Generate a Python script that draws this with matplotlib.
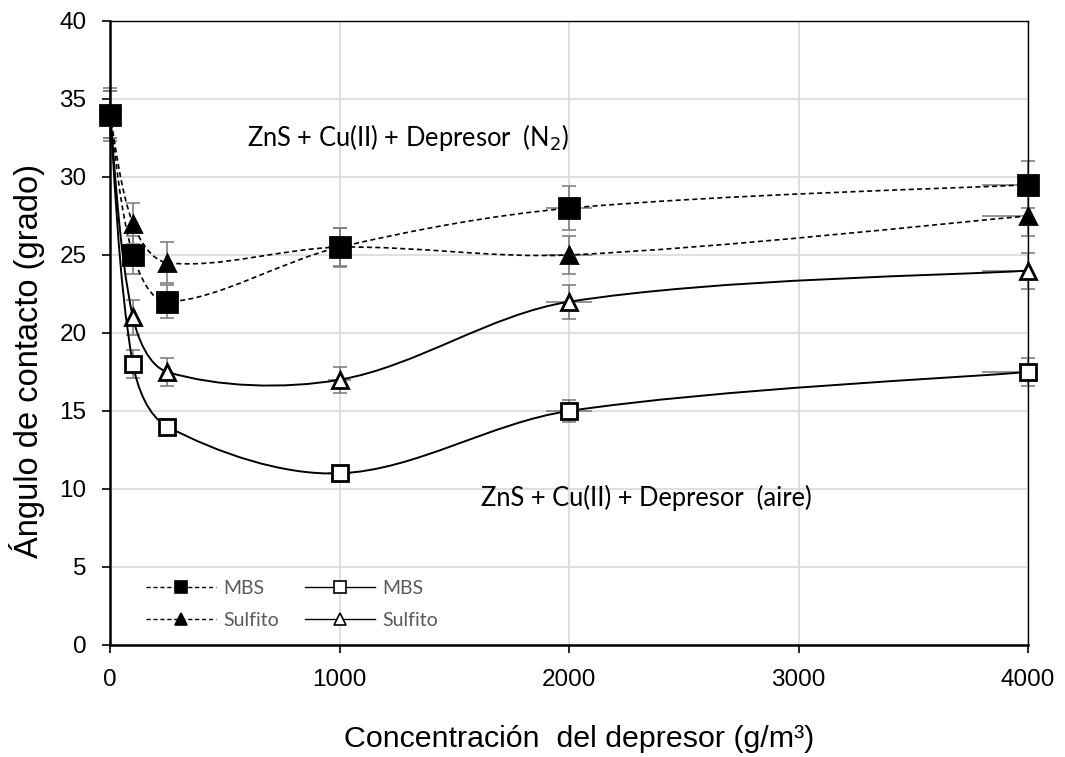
import matplotlib.pyplot as plt
import matplotlib as mpl
import numpy as np
from matplotlib.path import Path
from matplotlib.patches import PathPatch
from matplotlib.lines import Line2D

mpl.rcParams['font.family'] = 'sans-serif'
mpl.rcParams['font.sans-serif'] = ['Liberation Sans', 'Arial', 'DejaVu Sans']

# datos
conc = [0, 100, 250, 1000, 2000, 4000]
conc_err = [0, 5, 12.5, 50, 100, 200]

mbs_n2 = [34, 25, 22, 25.5, 28, 29.5]
mbs_n2_err = [1.7, 1.2, 1.05, 1.25, 1.4, 1.5]
sulf_n2 = [34, 27, 24.5, 25.5, 25, 27.5]
sulf_n2_err = [1.5, 1.3, 1.3, 1.2, 1.2, 1.3]
mbs_aire = [34, 18, 14, 11, 15, 17.5]
mbs_aire_err = [1.5, 0.9, 0.5, 0.3, 0.7, 0.9]
sulf_aire = [34, 21, 17.5, 17, 22, 24]
sulf_aire_err = [1.5, 1.1, 0.9, 0.85, 1.1, 1.15]

xticks = [0, 1000, 2000, 3000, 4000]
yticks = list(range(0, 45, 5))


def smooth_path(ax, xs, ys):
    """Curva suavizada tipo Excel: Bezier cubica calculada en pixeles"""
    tr = ax.transData
    pts = tr.transform(np.column_stack([xs, ys]).astype(float))
    n = len(pts)
    ctrl_in = [None] * n
    ctrl_out = [None] * n
    for i in range(n):
        if i == 0:
            ctrl_out[i] = pts[0] + (pts[1] - pts[0]) / 6.0
            continue
        if i == n - 1:
            ctrl_in[i] = pts[i] - (pts[i] - pts[i - 1]) / 6.0
            continue
        t = pts[i + 1] - pts[i - 1]
        dp = np.hypot(*(pts[i] - pts[i - 1]))
        dn = np.hypot(*(pts[i + 1] - pts[i]))
        ctrl_in[i] = pts[i] - t * dp / (dp + dn) / 3.0
        ctrl_out[i] = pts[i] + t * dn / (dp + dn) / 3.0
    verts = [pts[0]]
    codes = [Path.MOVETO]
    for i in range(n - 1):
        verts += [ctrl_out[i], ctrl_in[i + 1], pts[i + 1]]
        codes += [Path.CURVE4] * 3
    verts = tr.inverted().transform(np.array(verts))
    return Path(verts, codes)


fig = plt.figure(figsize=(10.65, 7.57), dpi=100)
ax = fig.add_axes([0.1033, 0.148, 0.862, 0.8243])
ax.set_xlim(0, 4000)
ax.set_ylim(0, 40)

# orden de dibujo: las series en N2 quedan encima
series = [
    (sulf_aire, sulf_aire_err, '^', 'white', '-', 11, 'Sulfito'),
    (mbs_aire, mbs_aire_err, 's', 'white', '-', 11, 'MBS'),
    (sulf_n2, sulf_n2_err, '^', 'black', (0, (3, 2)), 12, 'Sulfito'),
    (mbs_n2, mbs_n2_err, 's', 'black', (0, (3, 2)), 14, 'MBS'),
]

handles = {}
for k, (ys, yerr, mk, fc, ls, ms, lab) in enumerate(series):
    lw = 1.2 if ls != '-' else 1.4
    ax.add_patch(PathPatch(smooth_path(ax, conc, ys), fill=False, edgecolor='black',
                           linewidth=lw, linestyle=ls, zorder=3 + k))
    ax.errorbar(conc, ys, yerr=yerr, fmt='none', ecolor='#808080',
                elinewidth=1.2, capsize=5, capthick=1.2, zorder=2, clip_on=False)
    ax.errorbar(conc, ys, xerr=conc_err, fmt='none', ecolor='#808080',
                elinewidth=1.2, capsize=0, zorder=2)
    ax.plot(conc, ys, linestyle='none', marker=mk, markersize=ms,
            markerfacecolor=fc, markeredgecolor='black', markeredgewidth=2,
            zorder=10 + k, clip_on=False)
    handles[(mk, fc)] = Line2D([], [], color='black', linestyle=ls, linewidth=1,
                               marker=mk, markersize=9, markerfacecolor=fc,
                               markeredgecolor='black', markeredgewidth=1.2, label=lab)

ax.set_xticks(xticks)
ax.set_yticks(yticks)
ax.grid(True, color='#d9d9d9', linewidth=1.2)
ax.set_axisbelow(True)
ax.tick_params(labelsize=17.5, length=6, width=1.2, colors='black', pad=11)
for s in ['left', 'bottom']:
    ax.spines[s].set_linewidth(1.8)
for s in ['top', 'right']:
    ax.spines[s].set_linewidth(1.0)

ax.set_xlabel('Concentración  del depresor (g/m³)', fontsize=21.9)
ax.set_ylabel('Ángulo de contacto (grado)', fontsize=23.5)
ax.xaxis.set_label_coords(0.511, -0.128)
ax.yaxis.set_label_coords(-0.071, 0.455)

ax.text(1300, 32.5, 'ZnS + Cu(II) + Depresor  (N$_2$)', fontsize=18.4,
        family='Lato', ha='center', va='center')
ax.text(2335, 9.4, 'ZnS + Cu(II) + Depresor  (aire)', fontsize=18.4,
        family='Lato', ha='center', va='center')

order = [('s', 'black'), ('^', 'black'), ('s', 'white'), ('^', 'white')]
leg = ax.legend(handles=[handles[o] for o in order], ncol=2, loc='lower left',
                bbox_to_anchor=(0.02, -0.002), frameon=False,
                prop={'family': 'Lato', 'size': 14}, handlelength=3.6,
                columnspacing=1.3, labelspacing=0.75, handletextpad=0.4)
for t in leg.get_texts():
    t.set_color('#595959')

fig.savefig('out.png', dpi=100)
